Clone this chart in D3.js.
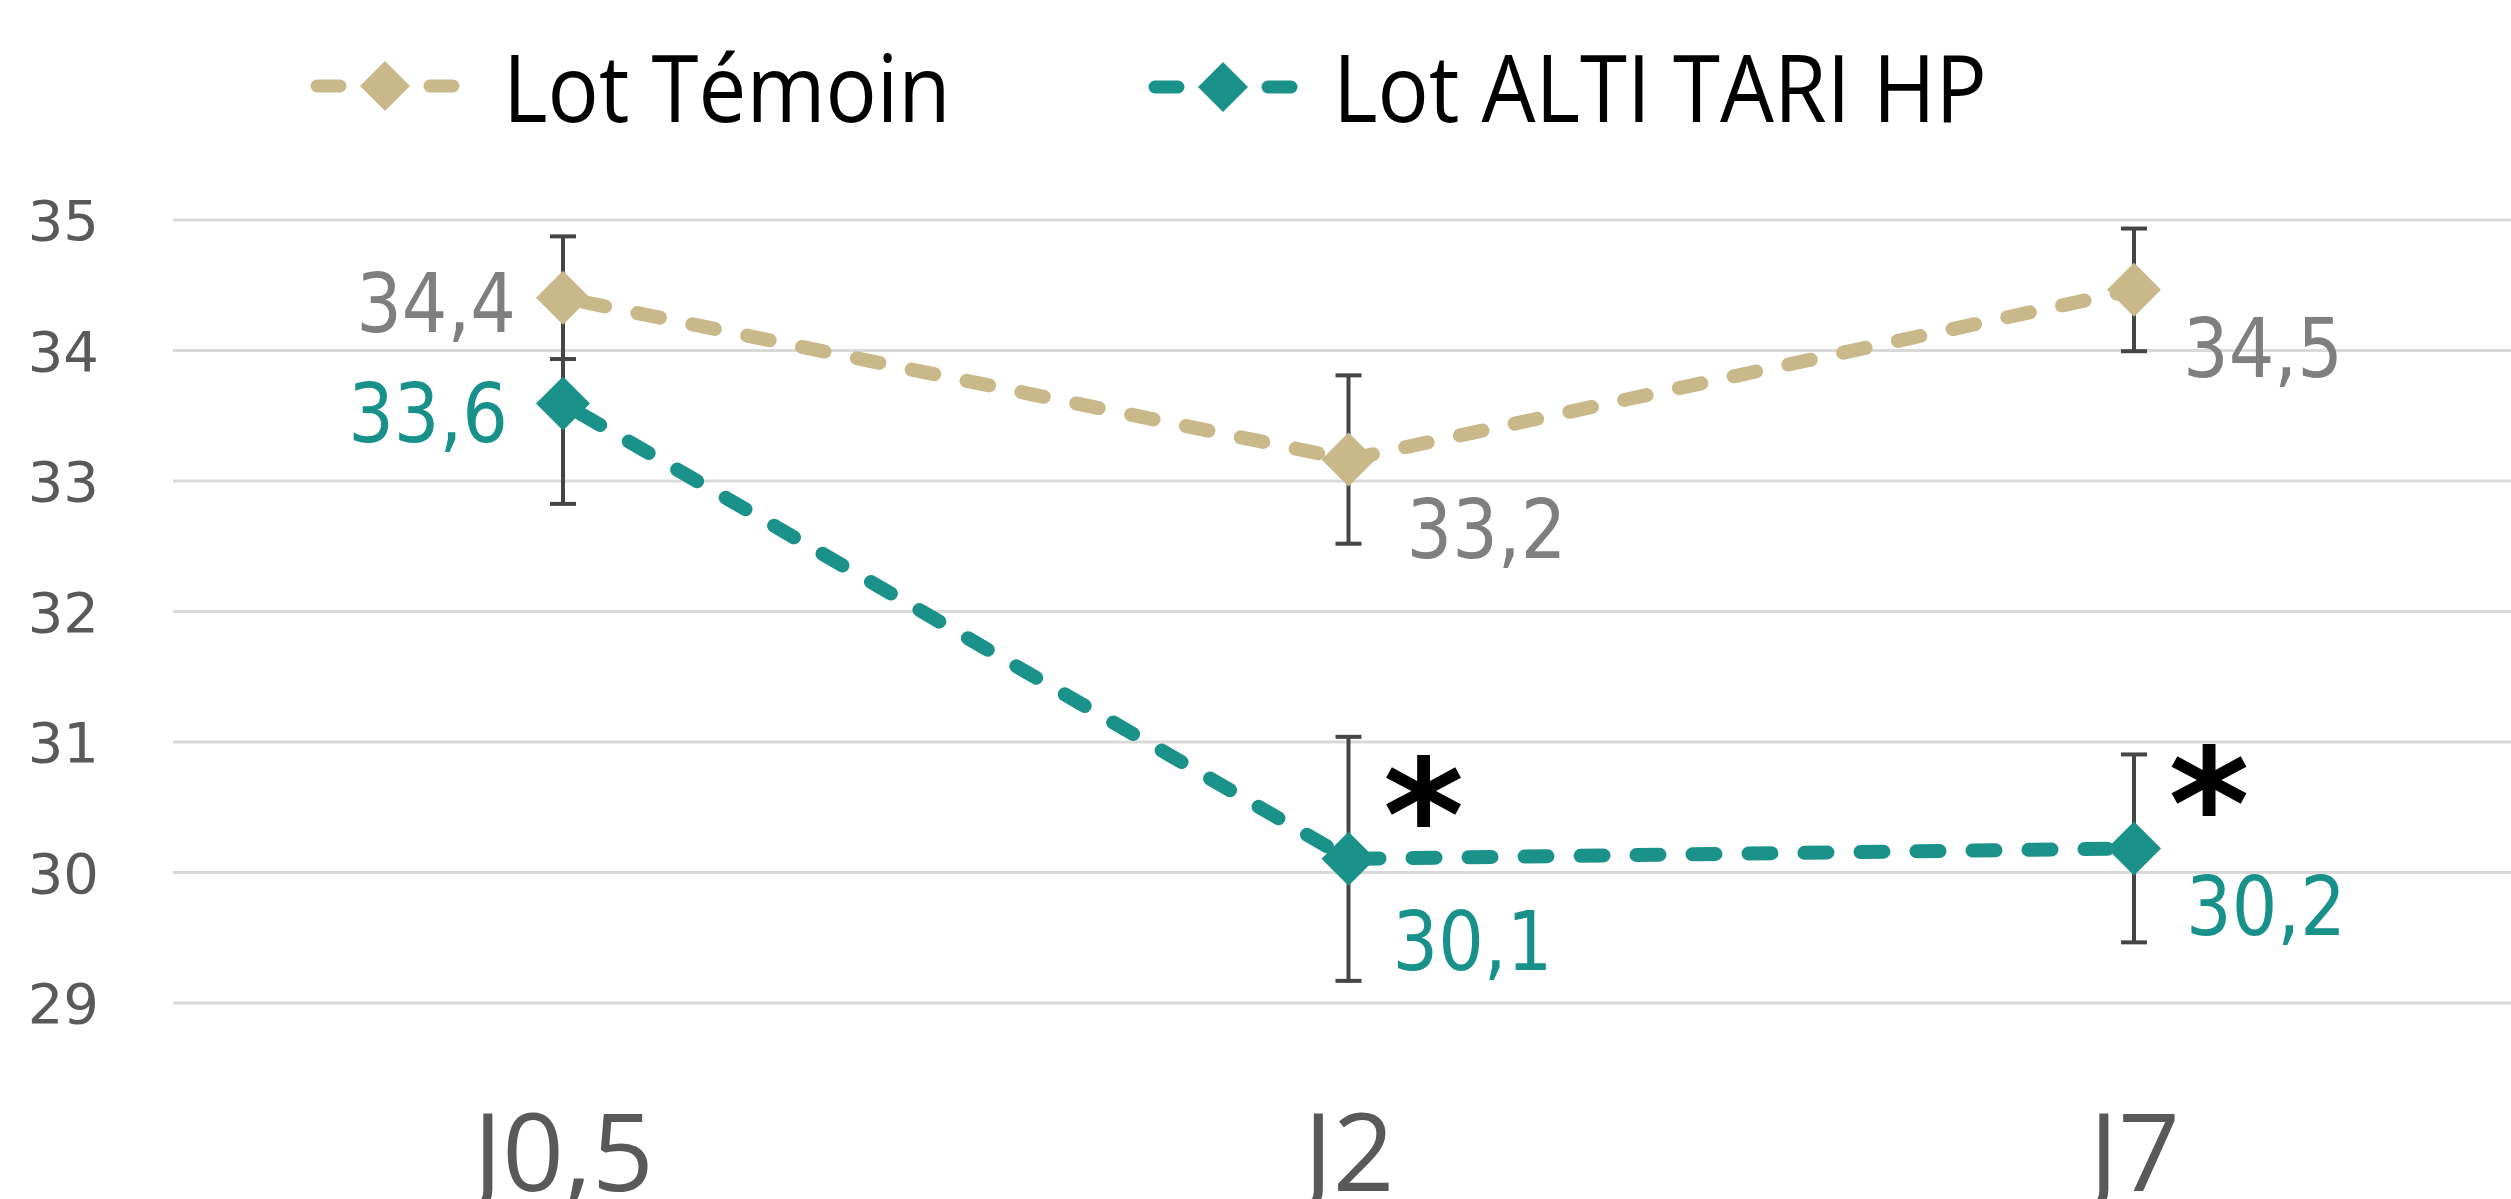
<!DOCTYPE html>
<html>
<head>
<meta charset="utf-8">
<script src="https://cdn.jsdelivr.net/npm/d3@7"></script>
<style>
  body { margin: 0; background: #ffffff; }
</style>
</head>
<body>
<div id="chart"></div>
<script>

// Chart values
var categories = ["J0,5", "J2", "J7"];
var temoinValues = [34.4, 33.16, 34.46];
var temoinErrors = [0.47, 0.645, 0.47];
var altiValues = [33.59, 30.1, 30.18];
var altiErrors = [0.77, 0.935, 0.72];
var altiSignificant = [false, true, true];
var yTicks = [29, 30, 31, 32, 33, 34, 35];
var seriesNames = ["Lot Témoin", "Lot ALTI TARI HP"];

var width = 2511, height = 1199;

// Colors
var tanColor = "#c8b88a";
var tealColor = "#1a9189";
var tealText = "#17918a";
var grayText = "#7f7f7f";
var axisText = "#595959";
var errColor = "#454545";

var svg = d3.select("#chart")
    .append("svg")
    .attr("width", width)
    .attr("height", height)
    .style("display", "block");

svg.append("rect").attr("width", width).attr("height", height).attr("fill", "#ffffff");

var plotLeft = 173;

// X scale
var x = d3.scalePoint()
    .domain(categories)
    .range([563, 2134]);

// Y scale
var y = d3.scaleLinear()
    .domain([29, 35])
    .range([1002.4, 219.4]);

// Y axis with gridlines
var yAxis = svg.append("g")
    .attr("transform", "translate(" + plotLeft + ",0)")
    .call(d3.axisLeft(y)
        .tickValues(yTicks)
        .tickFormat(d3.format("d"))
        .tickSize(-(width - plotLeft))
        .tickPadding(74));

yAxis.select(".domain").remove();
yAxis.selectAll("line")
    .style("stroke", "#d9d9d9")
    .style("stroke-width", 3);
yAxis.selectAll("text")
    .style("font-family", "'DejaVu Sans', Verdana, sans-serif")
    .style("font-size", "56px")
    .style("fill", axisText)
    .attr("dy", "0.36em");

// X axis labels
var xAxis = svg.append("g")
    .attr("transform", "translate(0,1191)")
    .call(d3.axisBottom(x).tickSize(0).tickPadding(0));

xAxis.select(".domain").remove();
xAxis.selectAll("text")
    .attr("y", 0)
    .attr("dy", 0)
    .style("font-family", "'Open Sans', sans-serif")
    .style("font-size", "108px")
    .style("fill", axisText);

// Build series rows
var series = [
    { name: seriesNames[0], color: tanColor, textColor: grayText, values: temoinValues, errors: temoinErrors,
      labelPos: [{ dx: -47, dy: 4, anchor: "end" }, { dx: 58, dy: 68, anchor: "start" }, { dx: 49, dy: 57, anchor: "start" }] },
    { name: seriesNames[1], color: tealColor, textColor: tealText, values: altiValues, errors: altiErrors,
      labelPos: [{ dx: -55, dy: 9, anchor: "end" }, { dx: 44, dy: 81, anchor: "start" }, { dx: 52, dy: 57, anchor: "start" }] }
];

series.forEach(function(s) {
    s.points = categories.map(function(c, i) {
        return { cat: c, value: s.values[i], err: s.errors[i], pos: s.labelPos[i] };
    });
});

// Error bars
var capHalf = 13;
series.forEach(function(s) {
    var g = svg.append("g");
    g.selectAll("line.stem")
        .data(s.points)
        .enter()
        .append("line")
        .attr("x1", function(d) { return x(d.cat); })
        .attr("x2", function(d) { return x(d.cat); })
        .attr("y1", function(d) { return y(d.value + d.err); })
        .attr("y2", function(d) { return y(d.value - d.err); })
        .attr("stroke", errColor)
        .attr("stroke-width", 4);
    [1, -1].forEach(function(sign) {
        g.selectAll(null)
            .data(s.points)
            .enter()
            .append("line")
            .attr("x1", function(d) { return x(d.cat) - capHalf; })
            .attr("x2", function(d) { return x(d.cat) + capHalf; })
            .attr("y1", function(d) { return y(d.value + sign * d.err); })
            .attr("y2", function(d) { return y(d.value + sign * d.err); })
            .attr("stroke", errColor)
            .attr("stroke-width", 4);
    });
});

// Dashed lines
var line = d3.line()
    .x(function(d) { return x(d.cat); })
    .y(function(d) { return y(d.value); });

series.forEach(function(s) {
    svg.append("path")
        .datum(s.points)
        .attr("d", line)
        .attr("fill", "none")
        .attr("stroke", s.color)
        .attr("stroke-width", 14)
        .attr("stroke-linecap", "round")
        .attr("stroke-dasharray", "23,33")
        .attr("stroke-dashoffset", -20);
});

// Diamond markers
var diamond = function(r) {
    return "M0," + (-r) + "L" + r + ",0L0," + r + "L" + (-r) + ",0Z";
};

series.forEach(function(s) {
    svg.append("g")
        .selectAll("path")
        .data(s.points)
        .enter()
        .append("path")
        .attr("transform", function(d) { return "translate(" + x(d.cat) + "," + y(d.value) + ")"; })
        .attr("d", diamond(27))
        .attr("fill", s.color);
});

// Data labels
var fmt = d3.format(".1f");
series.forEach(function(s) {
    svg.append("g")
        .selectAll("text")
        .data(s.points)
        .enter()
        .append("text")
        .attr("transform", function(d) {
            return "translate(" + (x(d.cat) + d.pos.dx) + "," + (y(d.value) + d.pos.dy + 30) + ") scale(0.97,1.1)";
        })
        .attr("text-anchor", function(d) { return d.pos.anchor; })
        .style("font-family", "'DejaVu Sans', Verdana, sans-serif")
        .style("font-size", "74px")
        .style("fill", s.textColor)
        .text(function(d) { return fmt(d.value).replace(".", ","); });
});

// Significance asterisks
svg.append("g")
    .selectAll("text")
    .data(series[1].points.filter(function(d, i) { return altiSignificant[i]; }))
    .enter()
    .append("text")
    .attr("x", function(d) { return x(d.cat) + 75; })
    .attr("y", function(d) { return y(d.value) - 63 + 74; })
    .attr("text-anchor", "middle")
    .style("font-family", "'DejaVu Sans', Verdana, sans-serif")
    .style("font-weight", "bold")
    .style("font-size", "155px")
    .style("fill", "#000000")
    .text("*");

// Legend
var legendItems = [
    { name: seriesNames[0], color: tanColor, x: 385, y: 86, textX: 503 },
    { name: seriesNames[1], color: tealColor, x: 1223, y: 87, textX: 1333 }
];

var legend = svg.append("g");
legendItems.forEach(function(d) {
    [-1, 1].forEach(function(side) {
        legend.append("line")
            .attr("x1", d.x + side * 45)
            .attr("x2", d.x + side * 68)
            .attr("y1", d.y)
            .attr("y2", d.y)
            .attr("stroke", d.color)
            .attr("stroke-width", 13)
            .attr("stroke-linecap", "round");
    });
    legend.append("path")
        .attr("transform", "translate(" + d.x + "," + d.y + ")")
        .attr("d", diamond(25))
        .attr("fill", d.color);
    legend.append("text")
        .attr("transform", "translate(" + d.textX + ",122) scale(0.97,1.06)")
        .style("font-family", "'Open Sans', sans-serif")
        .style("font-size", "88px")
        .style("fill", "#000000")
        .text(d.name);
});

</script>
</body>
</html>
